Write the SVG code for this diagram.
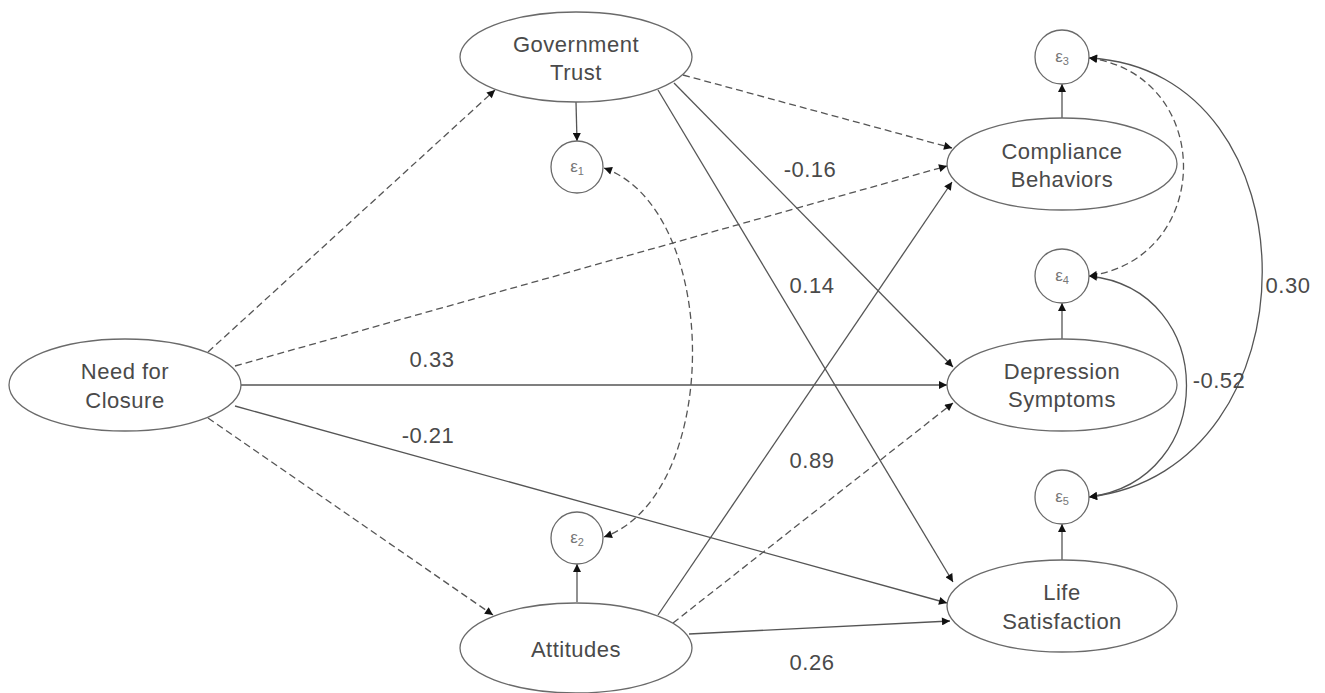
<svg xmlns="http://www.w3.org/2000/svg" width="1325" height="693" viewBox="0 0 1325 693">
<style>
.node{fill:#fff;stroke:#6a6a6a;stroke-width:1.3}
.lbl{font-family:"Liberation Sans",Arial,sans-serif;font-size:22px;fill:#4a4a4a;text-anchor:middle;letter-spacing:0.5px}
.num{font-family:"Liberation Sans",Arial,sans-serif;font-size:22px;fill:#4a4a4a;text-anchor:middle;letter-spacing:0.5px}
.eps{font-family:"Liberation Sans",Arial,sans-serif;font-size:17px;fill:#777;text-anchor:middle}
.sol{fill:none;stroke:#555;stroke-width:1.3;marker-end:url(#ah)}
.dash{fill:none;stroke:#555;stroke-width:1.3;stroke-dasharray:7 4;marker-end:url(#ah)}
.both{marker-start:url(#ah)}
</style>
<defs>
<marker id="ah" viewBox="0 0 10 10" refX="10" refY="5" markerWidth="12" markerHeight="8" orient="auto-start-reverse" markerUnits="userSpaceOnUse">
<path d="M0,0 L10,5 L0,10 z" fill="#111"/>
</marker>
</defs>
<rect width="1325" height="693" fill="#fff"/>
<g id="connectors">
<line class="dash" x1="208" y1="352" x2="495" y2="90"/>
<line class="dash" x1="235" y1="366" x2="947" y2="166"/>
<line class="dash" x1="208" y1="418" x2="493" y2="615"/>
<line class="dash" x1="683" y1="75" x2="952" y2="148"/>
<line class="dash" x1="673" y1="623" x2="953" y2="403"/>
<line class="sol" x1="241" y1="385" x2="947" y2="385"/>
<line class="sol" x1="235" y1="406" x2="947" y2="603"/>
<line class="sol" x1="674" y1="83" x2="953" y2="367"/>
<line class="sol" x1="658" y1="90" x2="953" y2="582"/>
<line class="sol" x1="658" y1="615" x2="952" y2="182"/>
<line class="sol" x1="689" y1="634" x2="950" y2="621"/>
<line class="sol" x1="576" y1="102" x2="577" y2="141"/>
<line class="sol" x1="577" y1="602" x2="577" y2="564"/>
<line class="sol" x1="1062" y1="118" x2="1062" y2="84"/>
<line class="sol" x1="1062" y1="339" x2="1062" y2="303"/>
<line class="sol" x1="1062" y1="560" x2="1062" y2="524"/>
<path class="dash both" d="M604,168 C722,210 722,495 604,537"/>
<path class="dash both" d="M1089,58 C1215,75 1215,258 1089,276"/>
<path class="sol both" d="M1089,58 C1320,70 1320,470 1089,497"/>
<path class="sol both" d="M1089,276 C1219,290 1219,480 1089,497"/>
<text class="num" x="810" y="177">-0.16</text>
<text class="num" x="812" y="293">0.14</text>
<text class="num" x="432" y="367">0.33</text>
<text class="num" x="428" y="443">-0.21</text>
<text class="num" x="812" y="468">0.89</text>
<text class="num" x="812" y="670">0.26</text>
<text class="num" x="1288" y="293">0.30</text>
<text class="num" x="1219" y="388">-0.52</text>
</g>
<g id="need-for-closure">
<ellipse class="node" cx="125" cy="385" rx="116" ry="46"/>
<text class="lbl" x="125" y="379">Need for</text>
<text class="lbl" x="125" y="408">Closure</text>
</g>
<g id="government-trust">
<ellipse class="node" cx="576" cy="57" rx="116" ry="45"/>
<text class="lbl" x="576" y="52">Government</text>
<text class="lbl" x="576" y="80">Trust</text>
</g>
<g id="attitudes">
<ellipse class="node" cx="576" cy="648" rx="116" ry="45"/>
<text class="lbl" x="576" y="657">Attitudes</text>
</g>
<g id="compliance-behaviors">
<ellipse class="node" cx="1062" cy="164" rx="115" ry="46"/>
<text class="lbl" x="1062" y="159">Compliance</text>
<text class="lbl" x="1062" y="187">Behaviors</text>
</g>
<g id="depression-symptoms">
<ellipse class="node" cx="1062" cy="385" rx="115" ry="46"/>
<text class="lbl" x="1062" y="379">Depression</text>
<text class="lbl" x="1062" y="407">Symptoms</text>
</g>
<g id="life-satisfaction">
<ellipse class="node" cx="1062" cy="606" rx="115" ry="46"/>
<text class="lbl" x="1062" y="600">Life</text>
<text class="lbl" x="1062" y="629">Satisfaction</text>
</g>
<g id="e1">
<circle class="node" cx="577" cy="167" r="26"/>
<text class="eps" x="577" y="172">ε<tspan font-size="11" dy="3">1</tspan></text>
</g>
<g id="e2">
<circle class="node" cx="577" cy="538" r="26"/>
<text class="eps" x="577" y="543">ε<tspan font-size="11" dy="3">2</tspan></text>
</g>
<g id="e3">
<circle class="node" cx="1062" cy="57" r="27"/>
<text class="eps" x="1062" y="62">ε<tspan font-size="11" dy="3">3</tspan></text>
</g>
<g id="e4">
<circle class="node" cx="1062" cy="276" r="27"/>
<text class="eps" x="1062" y="281">ε<tspan font-size="11" dy="3">4</tspan></text>
</g>
<g id="e5">
<circle class="node" cx="1062" cy="497" r="27"/>
<text class="eps" x="1062" y="502">ε<tspan font-size="11" dy="3">5</tspan></text>
</g>
</svg>
